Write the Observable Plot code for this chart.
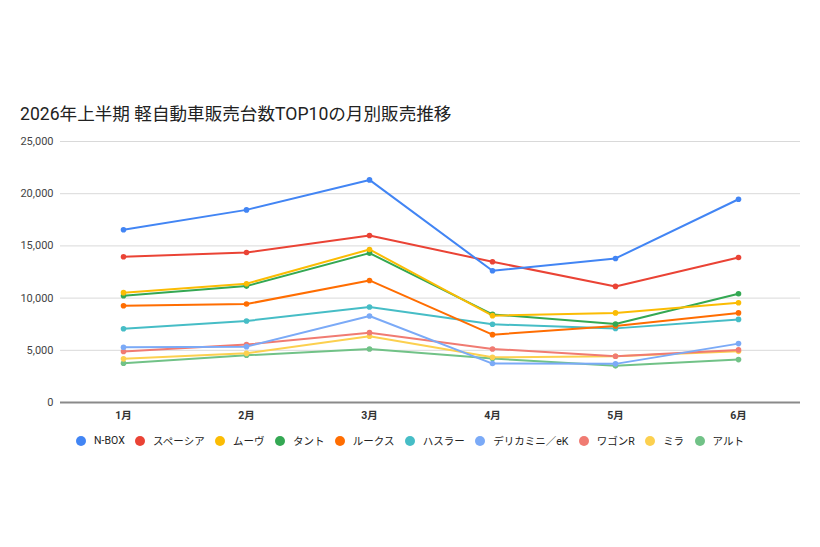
<!DOCTYPE html>
<html>
<head>
<meta charset="utf-8">
<script src="https://cdn.jsdelivr.net/npm/d3@7"></script>
<script src="https://cdn.jsdelivr.net/npm/@observablehq/plot@0.6"></script>
<style>
  html, body { margin: 0; padding: 0; background: #fff; }
  #wrap { position: relative; width: 820px; height: 547px; font-family: Roboto, "Noto Sans CJK JP", sans-serif; }
  #title { position: absolute; left: 20px; top: 100px; font-size: 17.6px; color: #222; font-family: Roboto, "Noto Sans CJK JP", sans-serif; white-space: nowrap; }
  #chart { position: absolute; left: 0; top: 130px; }
  #legend { position: absolute; left: 0; width: 820px; top: 433px; display: flex; justify-content: center; font-size: 10.5px; color: #222; }
  .item { display: flex; align-items: center; margin: 0 5.2px; white-space: nowrap; }
  .dot { width: 10px; height: 10px; border-radius: 50%; margin-right: 8px; }
</style>
</head>
<body>
<div id="wrap">
  <div id="title">2026年上半期 軽自動車販売台数TOP10の月別販売推移</div>
  <div id="chart"></div>
  <div id="legend"></div>
</div>
<script>
const months = ["1月", "2月", "3月", "4月", "5月", "6月"];
const seriesNames = ["N-BOX", "スペーシア", "ムーヴ", "タント", "ルークス", "ハスラー", "デリカミニ／eK", "ワゴンR", "ミラ", "アルト"];
const colors = ["#4285f4", "#ea4335", "#fbbc04", "#34a853", "#ff6d01", "#46bdc6", "#7baaf7", "#f07b72", "#fcd04f", "#71c287"];
const nbox    = [16540, 18450, 21320, 12620, 13800, 19470];
const spacia  = [13960, 14370, 15990, 13480, 11120, 13890];
const move    = [10520, 11380, 14660, 8320, 8580, 9560];
const tanto   = [10230, 11150, 14310, 8440, 7520, 10420];
const roox    = [9270, 9430, 11690, 6500, 7330, 8580];
const hustler = [7070, 7810, 9150, 7490, 7100, 7960];
const delica  = [5290, 5350, 8290, 3730, 3700, 5640];
const wagonr  = [4880, 5550, 6690, 5130, 4430, 5040];
const mira    = [4180, 4710, 6340, 4330, 4430, 4900];
const alto    = [3760, 4520, 5130, 4210, 3510, 4110];
const yTicks  = [0, 5000, 10000, 15000, 20000, 25000];

const seriesValues = [nbox, spacia, move, tanto, roox, hustler, delica, wagonr, mira, alto];
const data = [];
seriesNames.forEach((name, i) => {
  months.forEach((m, j) => data.push({series: name, month: m, value: seriesValues[i][j]}));
});
const drawData = data.slice().reverse();

const chart = Plot.plot({
  width: 820,
  height: 295,
  marginLeft: 60,
  marginRight: 20,
  marginTop: 11,
  marginBottom: 23,
  style: { fontFamily: 'Roboto, "Noto Sans CJK JP", sans-serif', fontSize: "10px", background: "transparent" },
  x: { type: "point", domain: months, padding: 0.5, label: null },
  y: { domain: [0, 25000], label: null },
  color: { domain: seriesNames, range: colors },
  marks: [
    Plot.gridY(yTicks, { stroke: "#d9d9d9", strokeOpacity: 1, strokeWidth: 1 }),
    Plot.axisY(yTicks, { tickSize: 0, tickPadding: 7, tickFormat: d3.format(","), fill: "#444", fontSize: 11 }),
    Plot.axisX({ tickSize: 0, tickPadding: 9, fill: "#333", fontSize: 10.5, fontWeight: "bold" }),
    Plot.ruleY([0], { stroke: "#8a8a8a", strokeWidth: 1.8 }),
    Plot.line(drawData, { x: "month", y: "value", z: "series", stroke: "series", strokeWidth: 2 }),
    Plot.dot(drawData, { x: "month", y: "value", fill: "series", r: 2.8 })
  ]
});
document.getElementById("chart").appendChild(chart);

const legend = document.getElementById("legend");
seriesNames.forEach((name, i) => {
  const item = document.createElement("div");
  item.className = "item";
  const dot = document.createElement("span");
  dot.className = "dot";
  dot.style.background = colors[i];
  const label = document.createElement("span");
  label.textContent = name;
  item.appendChild(dot);
  item.appendChild(label);
  legend.appendChild(item);
});
</script>
</body>
</html>
